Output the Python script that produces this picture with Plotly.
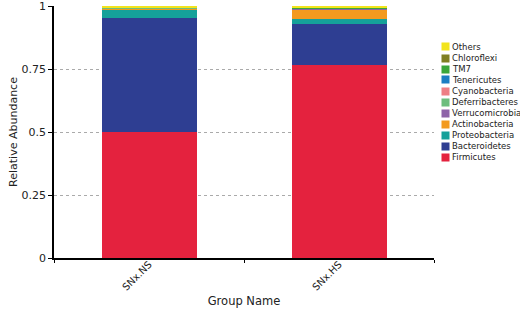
import plotly.graph_objects as go

groups = ["SNx.NS", "SNx.HS"]
phyla = ["Firmicutes", "Bacteroidetes", "Proteobacteria", "Actinobacteria",
         "Verrucomicrobia", "Deferribacteres", "Cyanobacteria", "Tenericutes",
         "TM7", "Chloroflexi", "Others"]
ns_values = [0.500, 0.452, 0.036, 0.003, 0.001, 0.001, 0.001, 0.001, 0.001, 0.000, 0.004]
hs_values = [0.766, 0.163, 0.021, 0.038, 0.001, 0.001, 0.001, 0.001, 0.001, 0.000, 0.007]
colors = ["#E4223E", "#2E3E92", "#15A19A", "#F39A1F", "#8E63A8", "#6DBE7E",
          "#EE7F85", "#1C7EC2", "#3AA63A", "#7F7F22", "#F2E41C"]
ytick_vals = [0, 0.25, 0.5, 0.75, 1]
ytick_text = ["0", "0.25", "0.5", "0.75", "1"]

FONT = "DejaVu Sans"
fig = go.Figure()
for i, name in enumerate(phyla):
    fig.add_trace(go.Bar(
        x=groups, y=[ns_values[i], hs_values[i]], name=name,
        marker=dict(color=colors[i], line=dict(width=0)),
        width=0.5, showlegend=False, hoverinfo="skip"))

# compact legend built from annotations (top item = last phylum)
L, R, T, B = 54, 86, 6, 55
pw, ph = 520 - L - R, 313 - T - B
for k, name in enumerate(reversed(phyla)):
    py = 47 + 11 * k
    yp = (313 - B - py) / ph
    col = colors[len(phyla) - 1 - k]
    fig.add_annotation(x=(445 - L) / pw, y=yp, xref="paper", yref="paper",
                       text="", width=7, height=7, bgcolor=col,
                       showarrow=False, xanchor="center", yanchor="middle",
                       borderpad=0)
    fig.add_annotation(x=(450 - L) / pw, y=yp, xref="paper", yref="paper",
                       text=name, showarrow=False, xanchor="left", yanchor="middle",
                       font=dict(family=FONT, size=8.5, color="#222"))

fig.update_layout(
    barmode="stack",
    width=520, height=313,
    margin=dict(l=L, r=R, t=T, b=B),
    plot_bgcolor="white", paper_bgcolor="white",
    font=dict(family=FONT, size=11, color="#222"),
    xaxis=dict(range=[-0.5, 1.5], showline=True, linecolor="black", linewidth=1.5,
               ticks="outside", tickson="boundaries", ticklen=3, tickcolor="black",
               tickangle=-45, tickfont=dict(size=10), ticklabelstandoff=-5,
               title=dict(text="Group Name", font=dict(size=11.5), standoff=5),
               showgrid=False, fixedrange=True, automargin=False),
    yaxis=dict(range=[0, 1.0005], tickvals=ytick_vals, ticktext=ytick_text,
               showline=True, linecolor="black", linewidth=1.5,
               ticks="outside", ticklen=4, tickcolor="black",
               showgrid=True, gridcolor="#aaa", griddash="3px,3px", gridwidth=1,
               zeroline=False, tickfont=dict(size=11), ticklabeloverflow="allow",
               title=dict(text="Relative Abundance", font=dict(size=11), standoff=2),
               fixedrange=True, automargin=False),
)
fig.write_html("out.html", config={"displayModeBar": False},
               post_script="document.body.style.margin='0';document.body.style.overflow='hidden';")
